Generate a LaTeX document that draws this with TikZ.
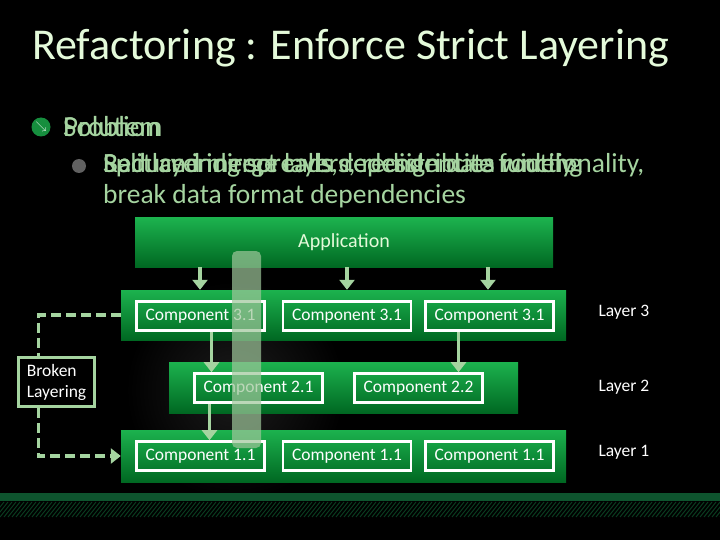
\documentclass[tikz,border=0pt]{standalone}
\usepackage{fontspec}
\setmainfont{Carlito}
\usetikzlibrary{arrows.meta,positioning}

\definecolor{slidegreen}{RGB}{28,178,78}
\definecolor{deepgreen}{RGB}{0,104,34}
\definecolor{palegreen}{RGB}{165,212,160}
\definecolor{titlegreen}{RGB}{228,250,218}
\definecolor{stripegreen}{RGB}{14,84,46}
\definecolor{hatchgreen}{RGB}{10,60,32}

\tikzset{
  band/.style={inner sep=0pt, top color=slidegreen, bottom color=deepgreen},
  comp/.style={draw=white, line width=2.6pt, minimum width=128pt, minimum height=29pt,
    inner sep=0pt, text=white, font=\fontsize{17.5}{19}\selectfont},
  flow/.style={-{Triangle[width=15pt,length=10pt]}, draw=palegreen, line width=3.6pt},
  brokenline/.style={draw=palegreen, line width=3.6pt, dash pattern=on 10pt off 5pt},
  layerlabel/.style={text=white, font=\fontsize{17.5}{19}\selectfont, anchor=west},
  bodytext/.style={text=palegreen, anchor=base west, inner sep=0pt, font=\fontsize{27.5}{31}\selectfont}
}

\begin{document}
\begin{tikzpicture}[x=1pt,y=-1pt]
    \fill[black] (0,0) rectangle (720,540);
    \useasboundingbox (0,0) rectangle (720,540);
    \shade[inner color=black!78!white, outer color=black, opacity=0.5] (235,390) circle (110);

    % title and bullets
    \node[text=titlegreen, anchor=base west, inner sep=0pt, font=\fontsize{44}{48}\selectfont] (title) at (32,60) {Refactoring : Enforce Strict Layering};
    \node[circle, fill=slidegreen!80!black, minimum size=19pt, inner sep=0pt, text=white, font=\fontsize{11}{11}\selectfont] (mark) at (41,127) {$\searrow$};
    \node[bodytext, font=\fontsize{29}{31}\selectfont] (problem) at (63,137) {Problem};
    \node[bodytext, font=\fontsize{29}{31}\selectfont] (solution) at (63,137) {Solution};
    \node[circle, fill=black!62!white, minimum size=14pt, inner sep=0pt] (dot) at (79,166) {};
    \node[bodytext] (text1) at (103,173) {Bad layering spreads dependencies widely};
    \node[bodytext] (text2) at (103,173) {Reduce indirect calls, redesign data routing};
    \node[bodytext] (text3) at (103,173) {Split and merge layers, redistribute functionality,};
    \node[bodytext] (text4) at (103,204) {break data format dependencies};

    % layers
    \node[band, minimum width=418pt, minimum height=49pt, text=titlegreen, font=\fontsize{20}{22}\selectfont] (app) at (344,242.5) {Application};
    \node[band, minimum width=445pt, minimum height=50pt] (l3) at (343.5,315) {};
    \node[band, minimum width=349pt, minimum height=51pt] (l2) at (343.5,387.5) {};
    \node[band, minimum width=445pt, minimum height=52pt] (l1) at (343.5,456) {};

    \node[comp] (c31a) at (200.5,316) {Component 3.1};
    \node[comp] (c31b) at (347,316) {Component 3.1};
    \node[comp] (c31c) at (489.5,316) {Component 3.1};
    \node[comp] (c21) at (258.5,388) {Component 2.1};
    \node[comp] (c22) at (418.5,388) {Component 2.2};
    \node[comp] (c11a) at (200.5,456) {Component 1.1};
    \node[comp] (c11b) at (347,456) {Component 1.1};
    \node[comp] (c11c) at (489.5,456) {Component 1.1};

    \node[layerlabel] (lab3) at (595,312) {Layer 3};
    \node[layerlabel] (lab2) at (595,387) {Layer 2};
    \node[layerlabel] (lab1) at (595,452) {Layer 1};

    \node[draw=palegreen, line width=2.6pt, fill=black, text=white, align=left, inner sep=3pt,
      minimum width=76pt, minimum height=49pt, font=\fontsize{17.5}{21}\selectfont] (broken) at (56.5,382) {Broken\\Layering};

    % calls
    \draw[flow] ([xshift=-144pt]app.south) -- ([xshift=-144pt]app.south |- l3.north);
    \draw[flow] ([xshift=3pt]app.south) -- ([xshift=3pt]app.south |- l3.north);
    \draw[flow] ([xshift=144pt]app.south) -- ([xshift=144pt]app.south |- l3.north);
    \draw[flow] ([xshift=11pt]c31a.south) -- ([xshift=11pt]c31a.south |- c21.north);
    \draw[flow] ([xshift=-31pt]c31c.south) -- ([xshift=-31pt]c31c.south |- c22.north);
    \draw[flow] ([xshift=-49pt]c21.south) -- ([xshift=-49pt]c21.south |- c11a.north);

    \draw[brokenline] (l3.west) -| ([xshift=-18pt]broken.north);
    \draw[brokenline, -{Triangle[width=15pt,length=10pt]}] ([xshift=-18pt]broken.south) |- (l1.west);

    % highlight
    \node[fill=palegreen!85!gray, opacity=0.7, rounded corners=5pt, minimum width=29pt, minimum height=197pt] (bar) at (246.5,349.5) {};

    % bottom strip
    \fill[stripegreen] (0,493) rectangle (720,501);
    \foreach \x in {0,4,...,732}
      \draw[hatchgreen, line width=1pt] (\x,502) -- (\x-12,517);
\end{tikzpicture}
\end{document}
